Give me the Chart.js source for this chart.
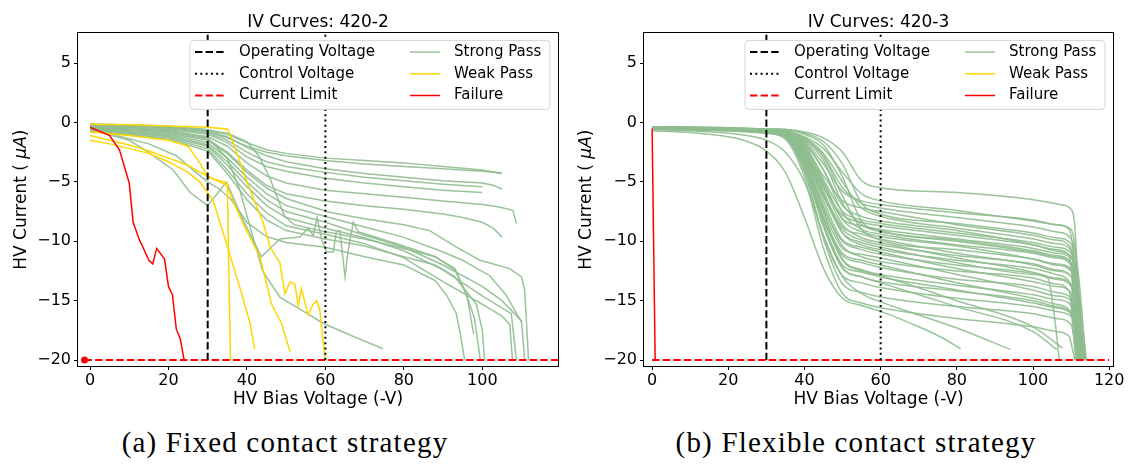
<!DOCTYPE html>
<html>
<head>
<meta charset="utf-8">
<script src="https://cdn.jsdelivr.net/npm/chart.js@4.4.1/dist/chart.umd.min.js"></script>
<style>
  html, body { margin: 0; padding: 0; background: #fff; }
  #wrap { position: relative; width: 1129px; height: 465px; overflow: hidden; }
  canvas { position: absolute; top: 0; }
  #cvA { left: 0; }
  #cvB { left: 565px; }
  .cap { position: absolute; top: 428px; width: 600px; text-align: center;
         font-family: "Liberation Serif", "DejaVu Serif", serif; font-size: 29px;
         letter-spacing: 1.2px; color: #000; line-height: 1; white-space: nowrap; }
  #capA { left: -15px; }
  #capB { left: 556px; }
</style>
</head>
<body>
<div id="wrap">
  <canvas id="cvA" width="565" height="415"></canvas>
  <canvas id="cvB" width="564" height="415"></canvas>
  <div class="cap" id="capA">(a) Fixed contact strategy</div>
  <div class="cap" id="capB">(b) Flexible contact strategy</div>
</div>
<script>
// ---- tick values and reference levels ----
const xTicksFixed = [0, 20, 40, 60, 80, 100];
const xTicksFlexible = [0, 20, 40, 60, 80, 100, 120];
const yTicks = [-20, -15, -10, -5, 0, 5];
const operatingVoltage = 30;
const controlVoltage = 60;
const currentLimit = -20;

// ---- board 420-2 (fixed contact): [voltage, current] pairs ----
const fixedStrongPass = [
  [[0,-0.1],[20,-0.3],[30,-0.6],[35,-1.0],[40,-1.7],[45,-2.3],[50,-2.6],[60,-3.0],[70,-3.2],[80,-3.4],[90,-3.7],[100,-4.0],[105,-4.3]],
  [[0,-0.2],[20,-0.4],[30,-0.8],[35,-1.3],[40,-2.0],[45,-2.5],[50,-2.8],[60,-3.2],[70,-3.5],[80,-3.7],[90,-3.9],[100,-4.1],[105,-4.25]],
  [[0,-0.2],[20,-0.4],[30,-0.7],[35,-1.2],[40,-2.1],[45,-2.8],[50,-3.3],[60,-3.9],[70,-4.3],[80,-4.6],[90,-4.9],[100,-5.1],[103,-5.3],[105,-5.6]],
  [[0,-0.3],[20,-0.5],[30,-0.9],[35,-1.5],[40,-2.5],[45,-3.3],[50,-3.7],[60,-4.2],[70,-4.6],[80,-4.9],[90,-5.2],[100,-5.4]],
  [[0,-0.3],[20,-0.6],[30,-1.0],[35,-1.7],[40,-2.9],[45,-3.7],[50,-4.1],[60,-4.7],[70,-5.1],[80,-5.4],[90,-5.7],[100,-5.9]],
  [[0,-0.4],[20,-0.7],[30,-1.2],[35,-2.0],[40,-3.4],[45,-4.5],[50,-5.1],[60,-5.7],[70,-6.0],[80,-6.3],[90,-6.6],[100,-6.9],[104,-7.1],[107.8,-7.4],[108.7,-8.5]],
  [[0,-0.4],[20,-0.8],[30,-1.4],[35,-2.5],[40,-4.0],[45,-5.3],[50,-6.0],[60,-6.6],[70,-7.0],[80,-7.3],[90,-7.7],[95,-8.0],[100,-8.4],[102.8,-8.9],[105,-9.65]],
  [[0,-0.5],[20,-0.9],[30,-1.5],[35,-2.6],[40,-4.2],[45,-5.5],[50,-6.4],[61,-7.55],[70,-8.1],[80,-8.6],[86.6,-9.1],[93.4,-10.5],[99.4,-11.6],[107,-12.3],[110,-13.0],[110.8,-14.1],[111.8,-20]],
  [[0,-0.5],[20,-1.0],[30,-1.7],[35,-3.0],[40,-4.6],[45,-6.0],[50,-7.0],[61,-8.0],[70,-8.8],[79.8,-9.65],[89.2,-10.8],[95,-11.6],[101.9,-12.9],[106,-14.5],[110,-16.8]],
  [[0,-0.6],[20,-1.1],[30,-1.9],[35,-3.3],[40,-5.0],[45,-6.5],[50,-7.5],[60,-8.4],[70,-9.5],[80,-10.5],[90,-12.0],[100,-13.8],[105,-15.0],[110,-16.7],[110.8,-20]],
  [[0,-0.6],[20,-1.2],[30,-2.0],[35,-3.6],[40,-5.4],[45,-7.0],[50,-8.0],[60,-8.9],[70,-9.7],[80,-10.8],[90,-12.4],[100,-14.6],[107.4,-16.1],[108.7,-20]],
  [[0,-0.7],[20,-1.3],[30,-2.2],[35,-4.0],[40,-6.0],[45,-7.6],[50,-8.7],[60,-9.4],[70,-10.2],[80,-11.4],[90,-13.4],[100,-15.3],[105,-16.3],[107,-17.0],[107.7,-20]],
  [[0,-0.7],[20,-1.4],[30,-2.4],[35,-4.3],[40,-6.5],[45,-8.2],[50,-9.1],[60,-9.8],[70,-10.4],[80,-11.3],[88,-12.0],[93,-13.0],[98.5,-15.3],[100,-17.5],[100.6,-20]],
  [[0,-0.5],[15,-1.8],[22,-2.8],[27,-4.2],[30,-5.0],[33,-5.6],[36,-6.5],[40,-8.4],[45,-9.6],[50,-10.1],[60,-10.5],[70,-11.3],[80,-12.0],[88,-13.3],[91,-14.6],[93.4,-16.1],[94.5,-18.0],[95.5,-20]],
  [[0,-0.4],[20,-0.7],[30,-1.3],[35,-3.0],[38,-5.5],[41,-9.0],[44,-12.5],[48.4,-14.7],[55,-16.0],[59.4,-16.9],[67,-18.0],[74.7,-19.05]],
  [[0,-0.6],[10,-1.5],[14.4,-2.4],[21.2,-4.0],[25.5,-5.9],[30,-7.0],[34.8,-5.0],[39,-8.2],[43.7,-11.3],[48.4,-9.8],[53.5,-9.65],[55.6,-8.9],[56.9,-9.5],[57.9,-8.0],[59,-9.8],[60.3,-10.9],[62,-10.9],[62.8,-9.2],[63.7,-9.1],[65,-13.0],[65.8,-10.8],[67.1,-8.4],[68.4,-9.2],[79,-10.3],[88,-11.3],[93,-12.3],[96,-14.5],[97.8,-17.8]],
  [[0,-0.2],[20,-0.4],[30,-0.7],[35,-0.9],[40,-1.6],[43,-2.8],[46,-4.8],[49.6,-7.9],[52,-8.6],[60,-9.2],[70,-9.8],[80,-10.6],[88,-11.3],[93,-12.4],[96,-14.5],[98,-16.5],[99.5,-20]]
];
const fixedWeakPass = [
  [[0,-0.15],[10,-0.2],[20,-0.3],[30,-0.4],[35,-0.55],[35.7,-0.95],[39.9,-4.9],[44.2,-8.5],[45.9,-10.5],[48.4,-11.8],[49.7,-14.4],[51,-13.4],[52.2,-13.6],[53.1,-15.4],[53.9,-14.0],[55.6,-16.2],[56.9,-15.3],[57.8,-15.0],[58.6,-15.8],[59.4,-18.4],[60,-20]],
  [[0,-1.1],[5,-1.5],[10,-1.9],[13,-2.2],[15,-2.4],[20,-3.0],[25,-3.6],[28,-4.2],[30,-4.5],[34.8,-5.3],[39,-8.5],[43.3,-11.3],[46.3,-15.3],[48.8,-16.9],[51,-19.3]],
  [[0,-1.5],[5,-1.8],[10,-2.2],[15,-2.6],[20,-3.3],[25,-4.2],[28,-5.0],[31.4,-6.6],[34.8,-10.2],[38.2,-13.9],[40.8,-16.9],[42,-19.1]],
  [[0,-0.8],[10,-1.1],[20,-1.5],[25,-2.0],[28,-3.4],[30,-4.6],[33,-4.9],[35,-5.1],[35.8,-20]]
];
const fixedFailure = [
  [[0,-0.4],[5,-1.1],[7.5,-2.3],[10,-5.1],[11,-8.4],[12.5,-9.8],[13.5,-10.5],[15,-11.6],[16,-11.9],[17,-10.6],[19,-11.5],[20,-13.8],[21,-14.5],[22,-17.4],[23,-18.2],[24,-20]]
];
const fixedFailurePoint = [[-1.4, -20]];

// ---- board 420-3 (flexible contact): [voltage, current] pairs ----
const flexibleStrongPass = [
  [[0,-0.35],[20,-0.45],[30,-0.55],[35,-0.6],[40,-0.8],[45,-1.3],[50,-2.5],[55,-4.9],[60,-5.5],[80,-5.9],[100,-6.5],[107,-6.9],[110,-7.3],[110.9,-8.5],[111.8,-13.6],[112.6,-20]],
  [[0,-0.35],[20,-0.5],[30,-0.6],[35,-0.7],[40,-1.2],[45,-2.2],[50,-4.2],[55,-6.0],[60,-6.6],[80,-7.4],[100,-8.3],[106,-8.6],[109.5,-9.0],[111.5,-13],[113.5,-20]],
  [[0,-0.4],[20,-0.5],[30,-0.65],[35,-0.8],[40,-1.6],[45,-3.5],[50,-5.8],[55,-6.6],[60,-6.9],[80,-7.6],[100,-8.2],[106,-8.6],[110,-9.0],[111.5,-12],[113,-20]],
  [[0,-0.35],[20,-0.5],[30,-0.6],[35,-0.7],[40,-1.3],[45,-2.8],[50,-5.5],[55,-6.8],[60,-7.2],[80,-8.0],[100,-8.8],[106,-9.2],[110,-9.8],[112,-13],[113.8,-20]],
  [[0,-0.4],[20,-0.55],[30,-0.7],[35,-0.9],[40,-2.0],[45,-4.5],[50,-6.6],[55,-7.2],[60,-7.5],[80,-8.6],[100,-9.5],[106,-9.9],[109.8,-10.5],[111.3,-14],[112.8,-20]],
  [[0,-0.4],[20,-0.55],[30,-0.7],[35,-0.8],[40,-1.8],[45,-4.0],[50,-7.0],[55,-7.9],[60,-8.3],[80,-9.1],[100,-10.3],[106,-10.8],[110.5,-11.5],[112.3,-15],[114,-20]],
  [[0,-0.45],[20,-0.6],[30,-0.75],[35,-1.0],[40,-2.6],[45,-5.5],[50,-7.8],[55,-8.4],[60,-8.7],[80,-9.5],[100,-10.3],[106,-10.7],[109.5,-11.2],[110.5,-14],[111.5,-20]],
  [[0,-0.4],[20,-0.5],[30,-0.65],[35,-0.8],[40,-1.5],[45,-3.2],[50,-6.8],[55,-8.6],[60,-9.2],[80,-9.9],[100,-10.8],[106,-11.2],[110,-11.8],[111.2,-15],[112.2,-20]],
  [[0,-0.45],[20,-0.6],[30,-0.7],[35,-0.9],[40,-2.2],[45,-5.0],[50,-8.2],[55,-9.2],[60,-9.6],[80,-10.4],[100,-11.5],[106,-12.0],[110,-12.5],[111.8,-15.5],[113.2,-20]],
  [[0,-0.35],[20,-0.5],[30,-0.6],[35,-0.7],[40,-1.4],[45,-2.9],[50,-6.2],[55,-9.0],[60,-9.9],[80,-10.7],[100,-11.5],[106,-11.9],[110.2,-12.4],[111,-15],[111.8,-20]],
  [[0,-0.45],[20,-0.6],[30,-0.75],[35,-1.0],[40,-2.8],[45,-6.2],[50,-9.0],[55,-9.9],[60,-10.3],[80,-11.2],[100,-11.9],[106,-12.4],[110,-13.0],[111.4,-16],[112.6,-20]],
  [[0,-0.4],[20,-0.55],[30,-0.7],[35,-0.9],[40,-2.4],[45,-5.8],[50,-9.3],[55,-10.3],[60,-10.7],[80,-11.6],[100,-12.3],[106,-12.8],[109.7,-13.5],[112,-16.5],[113.9,-20]],
  [[0,-0.45],[20,-0.6],[30,-0.8],[35,-1.1],[40,-3.2],[45,-7.2],[50,-10.0],[55,-10.7],[60,-11.1],[80,-12.0],[100,-12.7],[106,-13.2],[110,-13.8],[111,-16.5],[112,-20]],
  [[0,-0.45],[20,-0.6],[30,-0.75],[35,-1.0],[40,-2.9],[45,-7.0],[50,-10.4],[55,-11.3],[60,-11.7],[80,-12.5],[100,-13.1],[106,-13.6],[109.5,-14.2],[110.4,-17],[111.2,-20]],
  [[0,-0.5],[20,-0.65],[30,-0.8],[35,-1.2],[40,-3.6],[45,-8.2],[50,-11.2],[55,-11.8],[60,-12.2],[80,-13.2],[100,-13.8],[106,-14.3],[110,-14.8],[111.8,-17],[113.5,-20]],
  [[0,-0.45],[20,-0.6],[30,-0.8],[35,-1.1],[40,-3.0],[45,-7.6],[50,-11.5],[55,-12.4],[60,-12.8],[80,-13.7],[100,-14.5],[106,-14.9],[110,-15.4],[111.3,-17.5],[112.4,-20]],
  [[0,-0.5],[20,-0.65],[30,-0.85],[35,-1.2],[40,-3.8],[45,-8.8],[50,-12.3],[55,-13.0],[60,-13.4],[80,-14.2],[100,-15.0],[106,-15.5],[109.8,-16.0],[111.5,-18],[113,-20]],
  [[0,-0.5],[20,-0.65],[30,-0.85],[35,-1.3],[40,-4.2],[45,-9.6],[50,-12.9],[55,-13.5],[60,-13.9],[80,-14.8],[100,-15.5],[106,-15.9],[110.3,-16.4],[112.2,-18],[114,-20]],
  [[0,-0.5],[20,-0.7],[30,-0.9],[35,-1.3],[40,-4.0],[45,-9.8],[50,-13.6],[55,-14.3],[60,-14.7],[80,-15.5],[100,-16.1],[106,-16.5],[110,-17.0],[111,-18.5],[112,-20]],
  [[0,-0.5],[20,-0.7],[30,-0.9],[35,-1.4],[40,-4.6],[45,-10.6],[50,-14.4],[55,-15.2],[60,-15.6],[80,-16.5],[100,-17.2],[106,-17.6],[109.5,-18],[110.3,-19],[111,-20]],
  [[0,-0.7],[10,-0.85],[20,-1.2],[25,-1.6],[30,-2.4],[35,-4.2],[40,-8.0],[45,-12.3],[50,-14.8],[55,-15.4],[60,-15.9],[70,-17.2],[76,-18.1],[81,-19.05]],
  [[0,-0.6],[10,-0.7],[20,-0.9],[30,-1.5],[35,-2.5],[40,-5.0],[45,-9.5],[50,-13.0],[55,-14.4],[60,-15.1],[70,-16.2],[80,-17.3],[94,-19.1]],
  [[0,-0.5],[20,-0.65],[30,-0.85],[35,-1.2],[40,-3.5],[45,-8.6],[50,-12.2],[55,-13.0],[60,-13.5],[80,-15.5],[100,-17.6],[106.2,-19.1]],
  [[0,-0.45],[20,-0.6],[30,-0.8],[35,-1.1],[40,-3.3],[45,-8.0],[50,-11.6],[55,-12.5],[60,-12.9],[80,-15.0],[100,-17.2],[107.8,-19.0]],
  [[0,-0.4],[20,-0.55],[30,-0.7],[35,-0.9],[40,-2.5],[45,-6.2],[50,-9.3],[55,-10.1],[60,-10.5],[80,-11.8],[100,-12.8],[103.9,-13.1],[105.5,-16],[106.9,-20]],
  [[0,-0.4],[20,-0.55],[30,-0.7],[35,-0.8],[40,-1.9],[45,-4.8],[50,-7.5],[55,-8.2],[60,-8.5],[80,-9.3],[100,-10.1],[106,-10.5],[110,-11.0],[111.6,-14],[113,-20]],
  [[0,-0.4],[20,-0.55],[30,-0.7],[35,-0.9],[40,-2.1],[45,-5.2],[50,-8.1],[55,-8.7],[60,-9.0],[80,-9.8],[100,-10.6],[106,-11.0],[110.4,-11.6],[111.8,-15],[112.9,-20]],
  [[0,-0.4],[20,-0.5],[30,-0.65],[35,-0.8],[40,-1.7],[45,-4.0],[50,-7.6],[55,-9.0],[60,-9.4],[80,-10.3],[100,-11.0],[106,-11.4],[109.9,-12.0],[111.2,-15],[112.3,-20]],
  [[0,-0.45],[20,-0.6],[30,-0.75],[35,-1.0],[40,-2.6],[45,-6.0],[50,-8.8],[55,-9.4],[60,-9.8],[80,-11.0],[100,-12.0],[106,-12.5],[110.2,-13.0],[112,-16],[113.6,-20]],
  [[0,-0.45],[20,-0.6],[30,-0.7],[35,-0.9],[40,-2.3],[45,-5.4],[50,-8.6],[55,-9.7],[60,-10.1],[80,-11.4],[100,-12.6],[106,-13.1],[110,-13.6],[111.4,-16.5],[112.7,-20]],
  [[0,-0.5],[20,-0.65],[30,-0.8],[35,-1.1],[40,-3.1],[45,-7.4],[50,-10.6],[55,-11.1],[60,-11.4],[80,-12.8],[100,-14.1],[106,-14.6],[110,-15.0],[111.1,-17.5],[112.1,-20]],
  [[0,-0.5],[20,-0.65],[30,-0.85],[35,-1.2],[40,-3.4],[45,-8.0],[50,-11.0],[55,-11.6],[60,-12.0],[80,-13.5],[100,-14.8],[106,-15.3],[109.6,-15.8],[111.5,-18],[113.3,-20]],
  [[0,-0.35],[20,-0.5],[30,-0.6],[35,-0.7],[40,-1.3],[45,-2.6],[50,-5.0],[55,-7.2],[60,-7.9],[80,-8.9],[100,-9.8],[106,-10.2],[110.1,-10.8],[111.3,-14],[112.5,-20]],
  [[0,-0.45],[20,-0.6],[30,-0.75],[35,-1.0],[40,-2.7],[45,-6.6],[50,-9.9],[55,-10.5],[60,-10.9],[80,-12.3],[100,-13.4],[106,-13.8],[109.9,-14.3],[110.8,-17],[111.6,-20]],
  [[0,-0.5],[20,-0.65],[30,-0.85],[35,-1.2],[40,-3.7],[45,-8.5],[50,-12.0],[55,-12.6],[60,-13.0],[80,-14.1],[100,-15.2],[106,-15.6],[110,-16.1],[111.6,-18],[113.1,-20]],
  [[0,-0.35],[20,-0.45],[30,-0.55],[35,-0.6],[40,-0.9],[45,-1.6],[50,-3.5],[55,-6.8],[60,-7.7],[80,-8.5],[100,-9.3],[106,-9.7],[110,-10.2],[111.8,-14],[113.4,-20]],
  [[0,-0.35],[20,-0.45],[30,-0.55],[35,-0.6],[40,-1.0],[45,-1.9],[50,-4.6],[55,-8.3],[60,-9.1],[80,-10.0],[100,-10.9],[106,-11.3],[110.3,-11.9],[111.6,-15],[112.8,-20]]
];
const flexibleWeakPass = [];
const flexibleFailure = [
  [[0,-0.5],[0.8,-20]]
];

// ---- colours ----
const GREEN = 'rgba(143,188,143,0.9)';
const GOLD = '#FFD700';
const RED = '#FF0000';
const FONT = '"DejaVu Sans", "Liberation Sans", sans-serif';

Chart.defaults.font.family = FONT;
Chart.defaults.color = '#000';

function toPoints(pairs) { return pairs.map(p => ({ x: p[0], y: p[1] })); }

function curveSet(list, color, smooth) {
  return list.map(pairs => ({
    data: toPoints(pairs), borderColor: color, borderWidth: 1.5,
    pointRadius: 0, showLine: true, fill: false, tension: 0,
    cubicInterpolationMode: smooth ? 'monotone' : 'default'
  }));
}

function referenceSets(xLimitStart, xLimitEnd, yTop) {
  return [
    { data: toPoints([[operatingVoltage, currentLimit], [operatingVoltage, yTop]]),
      borderColor: '#000', borderWidth: 2, borderDash: [7.4, 3.2], pointRadius: 0, showLine: true },
    { data: toPoints([[controlVoltage, currentLimit], [controlVoltage, yTop]]),
      borderColor: '#000', borderWidth: 2, borderDash: [2, 3.3], pointRadius: 0, showLine: true },
    { data: toPoints([[xLimitStart, currentLimit], [xLimitEnd, currentLimit]]),
      borderColor: RED, borderWidth: 2, borderDash: [7.4, 3.2], pointRadius: 0, showLine: true }
  ];
}

// Legend, frame and y-axis title drawn inside/around the plot area
const legendItems = [
  { label: 'Operating Voltage', color: '#000', dash: [7.4, 3.2], w: 2 },
  { label: 'Control Voltage', color: '#000', dash: [2, 3.3], w: 2 },
  { label: 'Current Limit', color: RED, dash: [7.4, 3.2], w: 2 },
  { label: 'Strong Pass', color: GREEN, dash: [], w: 1.5 },
  { label: 'Weak Pass', color: GOLD, dash: [], w: 1.5 },
  { label: 'Failure', color: RED, dash: [], w: 1.5 }
];

const ivDecor = {
  id: 'ivDecor',
  afterDraw(chart, args, opts) {
    const ctx = chart.ctx;
    const a = chart.chartArea;
    ctx.save();
    // axes frame
    ctx.strokeStyle = '#000';
    ctx.lineWidth = 1;
    ctx.setLineDash([]);
    ctx.strokeRect(Math.round(a.left) - 0.5, Math.round(a.top) - 0.5,
                   Math.round(a.right - a.left) + 1, Math.round(a.bottom - a.top) + 1);

    // legend box
    const bw = 360, bh = 69;
    const bx = a.right - opts.legendGap - bw, by = a.top + 7;
    const r = 4;
    ctx.beginPath();
    ctx.moveTo(bx + r, by);
    ctx.arcTo(bx + bw, by, bx + bw, by + bh, r);
    ctx.arcTo(bx + bw, by + bh, bx, by + bh, r);
    ctx.arcTo(bx, by + bh, bx, by, r);
    ctx.arcTo(bx, by, bx + bw, by, r);
    ctx.closePath();
    ctx.fillStyle = 'rgba(255,255,255,1)';
    ctx.fill();
    ctx.strokeStyle = '#d5d5d5';
    ctx.lineWidth = 1;
    ctx.stroke();

    ctx.font = '15px ' + FONT;
    ctx.textBaseline = 'middle';
    ctx.textAlign = 'left';
    legendItems.forEach((it, i) => {
      const col = i < 3 ? 0 : 1;
      const row = i % 3;
      const hx = bx + (col === 0 ? 5 : 220);
      const hy = by + 11.7 + row * 21.7;
      ctx.beginPath();
      ctx.setLineDash(it.dash);
      ctx.strokeStyle = it.color;
      ctx.lineWidth = it.w;
      ctx.moveTo(hx, hy);
      ctx.lineTo(hx + 30, hy);
      ctx.stroke();
      ctx.setLineDash([]);
      ctx.fillStyle = '#000';
      ctx.fillText(it.label, hx + (col === 0 ? 44 : 44), hy);
    });

    // rotated y-axis title with italic micro-amp unit
    const cy = (a.top + a.bottom) / 2;
    ctx.translate(opts.yTitleX, cy);
    ctx.rotate(-Math.PI / 2);
    const normal = '17px ' + FONT;
    const italic = 'italic 17px ' + FONT;
    const parts = [['HV Current ( ', normal], ['\u03BCA', italic], [')', normal]];
    let total = 0;
    parts.forEach(p => { ctx.font = p[1]; total += ctx.measureText(p[0]).width; });
    let x = -total / 2;
    ctx.fillStyle = '#000';
    ctx.textBaseline = 'middle';
    parts.forEach(p => { ctx.font = p[1]; ctx.fillText(p[0], x, 0); x += ctx.measureText(p[0]).width; });
    ctx.restore();
  }
};

function minusSign(v) { return String(v).replace('-', '\u2212'); }

function makeChart(id, cfg) {
  const datasets = [].concat(
    referenceSets(cfg.limitStart, cfg.limitEnd, 7.5),
    cfg.point.length ? [{ data: toPoints(cfg.point), pointRadius: 3.5, pointBackgroundColor: RED,
                           pointBorderWidth: 0, showLine: false }] : [],
    curveSet(cfg.failure, RED, false),
    curveSet(cfg.weak, GOLD, false),
    curveSet(cfg.strong, GREEN, cfg.smooth)
  );
  return new Chart(document.getElementById(id), {
    type: 'scatter',
    data: { datasets },
    plugins: [ivDecor],
    options: {
      responsive: false, animation: false, devicePixelRatio: 1, events: [],
      layout: { padding: { left: 0, right: cfg.padRight, top: 0, bottom: 0 } },
      plugins: {
        legend: { display: false }, tooltip: { enabled: false },
        title: { display: true, text: cfg.title, fullSize: false, color: '#000',
                 font: { size: 17, weight: 'normal' }, padding: { top: 12, bottom: 1 } },
        ivDecor: { legendGap: cfg.legendGap, yTitleX: 22 }
      },
      scales: {
        x: {
          type: 'linear', min: cfg.xMin, max: cfg.xMax,
          afterFit: s => { s.height = 49; },
          afterBuildTicks: s => { s.ticks = cfg.xTicks.map(v => ({ value: v })); },
          grid: { drawOnChartArea: false, drawTicks: true, tickLength: 4, color: '#000', tickColor: '#000' },
          border: { display: false },
          ticks: { font: { size: 16 }, color: '#000', padding: 1, maxRotation: 0 },
          title: { display: true, text: 'HV Bias Voltage (-V)', color: '#000',
                   font: { size: 17 }, padding: { top: 0, bottom: 5 } }
        },
        y: {
          type: 'linear', min: -20.5, max: 7.5,
          afterFit: s => { s.width = cfg.yWidth; },
          afterBuildTicks: s => { s.ticks = yTicks.map(v => ({ value: v })); },
          grid: { drawOnChartArea: false, drawTicks: true, tickLength: 4, color: '#000', tickColor: '#000' },
          border: { display: false },
          ticks: { font: { size: 16 }, color: '#000', padding: 3, callback: minusSign }
        }
      }
    }
  });
}

makeChart('cvA', {
  title: 'IV Curves: 420-2', xMin: -3.06, xMax: 119.3, xTicks: xTicksFixed,
  yWidth: 78, padRight: 7, legendGap: 8, limitStart: -1.4, limitEnd: 125,
  strong: fixedStrongPass, weak: fixedWeakPass, failure: fixedFailure,
  point: fixedFailurePoint, smooth: false
});
makeChart('cvB', {
  title: 'IV Curves: 420-3', xMin: -2.13, xMax: 121, xTicks: xTicksFlexible,
  yWidth: 79, padRight: 16, legendGap: 8, limitStart: 0, limitEnd: 120,
  strong: flexibleStrongPass, weak: flexibleWeakPass, failure: flexibleFailure,
  point: [], smooth: true
});
</script>
</body>
</html>
